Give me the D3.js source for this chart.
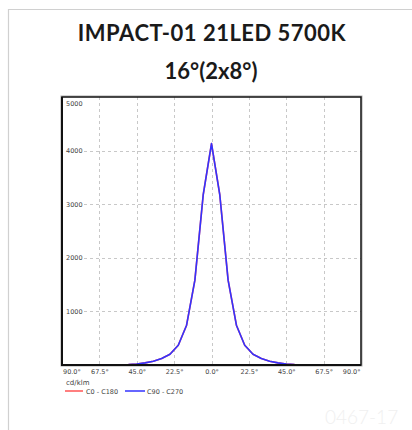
<!DOCTYPE html>
<html>
<head>
<meta charset="utf-8">
<script src="https://cdn.jsdelivr.net/npm/d3@7"></script>
<style>
  html, body { margin: 0; padding: 0; background: #fff; }
  svg { display: block; }
</style>
</head>
<body>
<svg id="chart" width="412" height="430"></svg>
<script>
// ---- data ----
const titleLines = ["IMPACT-01 21LED 5700K", "16°(2x8°)"];
const angles = [-90,-85,-80,-75,-70,-65,-60,-55,-50,-45,-40,-35,-30,-25,-20,-15,-10,-5,0,5,10,15,20,25,30,35,40,45,50,55,60,65,70,75,80,85,90];
const c0c180 = [0,0,0,0,0,0,2,5,10,20,40,70,120,200,368,742,1583,3172,4130,3172,1583,742,368,200,120,70,40,20,10,5,2,0,0,0,0,0,0];
const c90c270 = [0,0,0,0,0,0,2,5,10,20,40,70,120,200,368,742,1583,3172,4130,3172,1583,742,368,200,120,70,40,20,10,5,2,0,0,0,0,0,0];
const xTickValues = [-90,-67.5,-45,-22.5,0,22.5,45,67.5,90];
const xTickLabels = ["90.0°","67.5°","45.0°","22.5°","0.0°","22.5°","45.0°","67.5°","90.0°"];
const yTickValues = [1000,2000,3000,4000,5000];
const unitLabel = "cd/klm";
const seriesNames = ["C0 - C180","C90 - C270"];
const seriesColors = ["#ff5555","#3333ff"];
const watermark = "0467-17";

// ---- layout ----
const svg = d3.select("#chart");
const L = 62, R = 361, T = 97, B = 365;
const x = d3.scaleLinear().domain([-90, 90]).range([L, R]);
const y = d3.scaleLinear().domain([0, 5000]).range([B, T]);

// card border
svg.append("path").attr("d", "M8.5,430 V9.5 H412").attr("fill","none").attr("stroke","#d0d0d0").attr("stroke-width",1.2);

// watermark
svg.append("text").attr("x", 325).attr("y", 424).attr("font-family","Lato, sans-serif").attr("font-weight",300)
  .attr("font-size",19).attr("fill","#f0f0f0").text(watermark);

// titles
svg.append("text").attr("x", 212).attr("y", 41).attr("text-anchor","middle").attr("letter-spacing",0.5)
  .attr("font-family","Lato, sans-serif").attr("font-weight",700).attr("font-size",22).attr("fill","#1a1a1a").text(titleLines[0]);
svg.append("text").attr("x", 211).attr("y", 79).attr("text-anchor","middle")
  .attr("font-family","Lato, sans-serif").attr("font-weight",700).attr("font-size",22).attr("fill","#1a1a1a").text(titleLines[1]);

// grid
const grid = svg.append("g");
grid.selectAll("line.v").data(xTickValues.slice(1,-1)).enter().append("line")
  .attr("x1", d => Math.round(x(d)) + 0.5).attr("x2", d => Math.round(x(d)) + 0.5)
  .attr("y1", T).attr("y2", B)
  .attr("stroke","#c8c8c8").attr("stroke-width",1).attr("stroke-dasharray","3,3");
grid.selectAll("line.h").data(yTickValues.slice(0,-1)).enter().append("line")
  .attr("x1", 84).attr("x2", R)
  .attr("y1", d => Math.round(y(d)) + 0.5).attr("y2", d => Math.round(y(d)) + 0.5)
  .attr("stroke","#c8c8c8").attr("stroke-width",1).attr("stroke-dasharray","3,3");

// y labels
svg.append("g").selectAll("text").data(yTickValues).enter().append("text")
  .attr("x", 66).attr("y", d => d === 5000 ? y(d) + 9 : y(d) + 2.5)
  .attr("font-family","DejaVu Sans, sans-serif").attr("font-size",6.5).attr("fill","#444").text(d => d);

// x axis labels via d3 axis
const xAxis = d3.axisBottom(x).tickValues(xTickValues).tickSize(0).tickPadding(4)
  .tickFormat((d,i) => xTickLabels[i]);
const gx = svg.append("g").attr("transform", `translate(0,${B})`).call(xAxis);
gx.select(".domain").remove();
gx.selectAll("text").attr("font-family","DejaVu Sans, sans-serif").attr("font-size",6.5).attr("fill","#444")
  .attr("text-anchor", (d,i) => i === 0 ? "start" : (i === xTickValues.length-1 ? "end" : "middle"))
  .attr("dx", (d,i) => i === 0 ? 0.5 : (i === xTickValues.length-1 ? -1 : 0));

// curves
const line = d3.line().x((d,i) => x(angles[i])).y(d => y(d));
[c0c180, c90c270].forEach((s, k) => {
  svg.append("path").datum(s).attr("d", line).attr("fill","none")
    .attr("stroke", seriesColors[k]).attr("stroke-width", 1.6).attr("stroke-linejoin","round");
});

// frame
svg.append("rect").attr("x", L-1).attr("y", T-1).attr("width", R-L+2).attr("height", B-T+2)
  .attr("fill","none").attr("stroke","#aaa").attr("stroke-width",1);
svg.append("path").attr("d", `M${L},${B} V${T} H${R} V${B} Z`).attr("fill","none").attr("stroke","#111").attr("stroke-width",1.5);
svg.append("line").attr("x1", L).attr("x2", L).attr("y1", T).attr("y2", B+1).attr("stroke","#111").attr("stroke-width",2);
svg.append("line").attr("x1", L).attr("x2", R).attr("y1", B).attr("y2", B).attr("stroke","#111").attr("stroke-width",2);

// unit + legend
svg.append("text").attr("x", 66).attr("y", 385).attr("font-family","DejaVu Sans, sans-serif").attr("font-size",7).attr("fill","#444").text(unitLabel);
const leg = svg.append("g");
const legX = [[65,83,86],[125,145,147]];
seriesNames.forEach((n,k) => {
  leg.append("line").attr("x1", legX[k][0]).attr("x2", legX[k][1]).attr("y1", 391).attr("y2", 391)
    .attr("stroke", seriesColors[k]).attr("stroke-width", 1.5);
  leg.append("text").attr("x", legX[k][2]).attr("y", 393.5).attr("font-family","DejaVu Sans, sans-serif")
    .attr("font-size",6.5).attr("fill","#444").text(n);
});
</script>
</body>
</html>
